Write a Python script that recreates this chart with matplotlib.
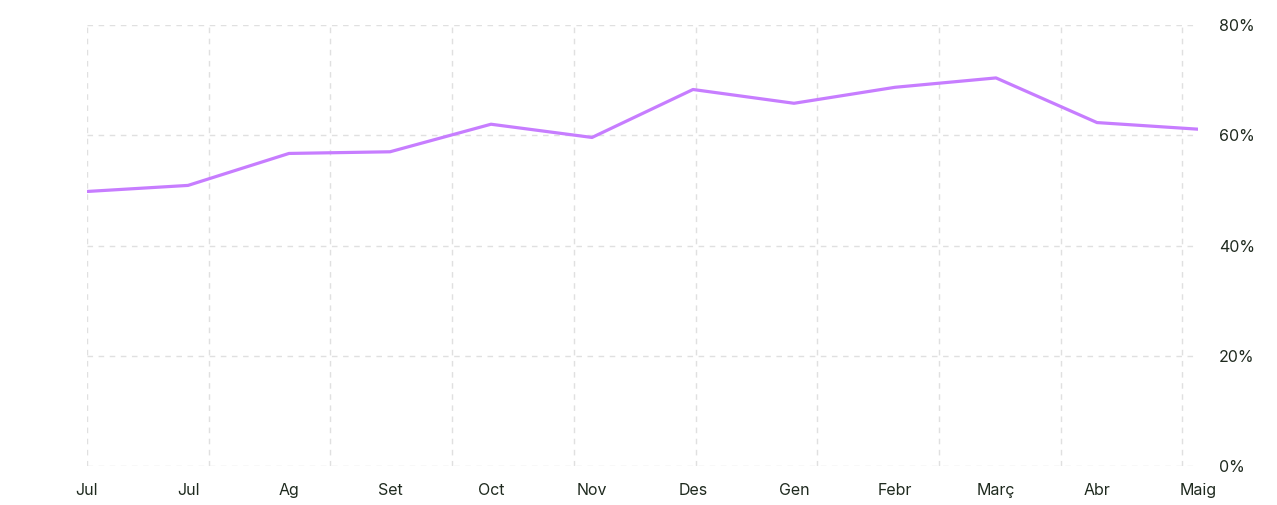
import matplotlib.pyplot as plt
import numpy as np

plt.rcParams['font.family'] = ['Inter', 'DejaVu Sans']

# monthly values (%)
months = ['Jul', 'Jul', 'Ag', 'Set', 'Oct', 'Nov', 'Des', 'Gen', 'Febr', 'Març', 'Abr', 'Maig']
values = [49.8, 50.9, 56.7, 57.0, 62.0, 59.6, 68.3, 65.8, 68.7, 70.4, 62.3, 61.1]
y_ticks = [0, 20, 40, 60, 80]

fig = plt.figure(figsize=(12.77, 5.05), dpi=100)
ax = fig.add_axes([87 / 1277, 39 / 505, 1111 / 1277, 441 / 505])

x = np.arange(len(months))
ax.plot(x, values, color='#c77dff', linewidth=2.3, solid_joinstyle='round')

ax.set_xlim(0, len(months) - 1)
ax.set_ylim(0, 80)

ax.set_xticks(x)
ax.set_xticklabels(months)
# vertical grid follows its own spacing, not the month points
ax.xaxis.remove_overlapping_locs = False
ax.set_xticks(np.arange(10) * 1.205, minor=True)
ax.set_yticks(y_ticks)
ax.set_yticklabels([f'{v}%' for v in y_ticks])

ax.yaxis.tick_right()
ax.tick_params(axis='both', which='both', length=0, labelsize=11.5, colors='#1f2a1f')
ax.tick_params(axis='y', pad=15)
ax.tick_params(axis='x', pad=12)

ax.grid(False)
ax.grid(axis='x', which='minor', color='#e0e0e0', linestyle=(0, (4, 4)), linewidth=1)
ax.grid(axis='y', which='major', color='#e0e0e0', linestyle=(0, (4, 4)), linewidth=1)
ax.set_axisbelow(True)

for s in ax.spines.values():
    s.set_visible(False)

plt.savefig('out.png', dpi=100)
